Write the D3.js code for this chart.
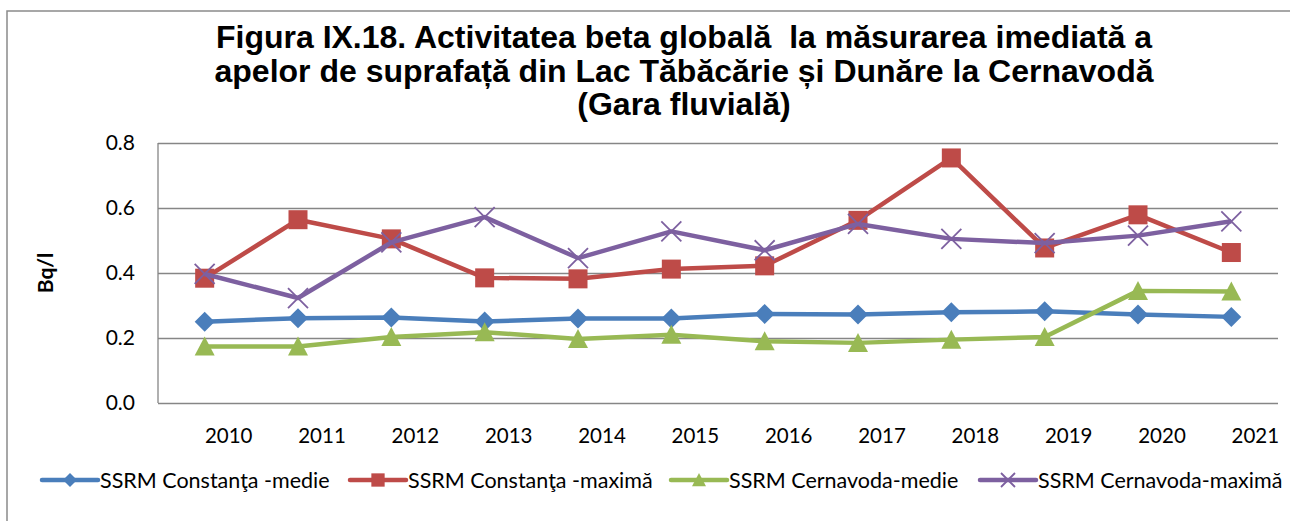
<!DOCTYPE html>
<html>
<head>
<meta charset="utf-8">
<script src="https://cdn.jsdelivr.net/npm/d3@7"></script>
<style>
  body { margin: 0; background: #fff; }
  .grid line { stroke: #868686; stroke-width: 1.3; }
  .grid .domain { display: none; }
  .line { fill: none; stroke-width: 4.5; stroke-linejoin: round; }
</style>
</head>
<body>
<div id="chart"></div>
<script>
// chart data
const years = ["2010", "2011", "2012", "2013", "2014", "2015", "2016", "2017", "2018", "2019", "2020", "2021"];
const constantaMedie = [0.250, 0.261, 0.263, 0.251, 0.260, 0.260, 0.274, 0.272, 0.279, 0.282, 0.272, 0.265];
const constantaMaxima = [0.384, 0.564, 0.505, 0.385, 0.382, 0.412, 0.422, 0.562, 0.754, 0.477, 0.579, 0.463];
const cernavodaMedie = [0.174, 0.174, 0.203, 0.218, 0.197, 0.210, 0.190, 0.185, 0.195, 0.203, 0.345, 0.343];
const cernavodaMaxima = [0.397, 0.323, 0.494, 0.572, 0.446, 0.528, 0.470, 0.551, 0.505, 0.492, 0.515, 0.559];
const yTicks = [0.0, 0.2, 0.4, 0.6, 0.8];
const seriesNames = ["SSRM Constanţa -medie", "SSRM Constanţa -maximă", "SSRM Cernavoda-medie", "SSRM Cernavoda-maximă"];
const titleLines = [
    "Figura IX.18. Activitatea beta globală  la măsurarea imediată a",
    "apelor de suprafață din Lac Tăbăcărie și Dunăre la Cernavodă",
    "(Gara fluvială)"
];

function renderChart() {
    const W = 1290, H = 521;
    const margin = {top: 143, left: 158, right: 12, bottom: 118};
    const width = W - margin.left - margin.right,
          height = H - margin.top - margin.bottom;

    const svg = d3.select("#chart")
                  .append("svg")
                    .attr("width", W)
                    .attr("height", H);

    //outer frame
    svg.append("rect")
        .attr("x", 7).attr("y", 11)
        .attr("width", 1400).attr("height", 700)
        .attr("fill", "none")
        .attr("stroke", "#8a8a8a")
        .attr("stroke-width", 1.5);

    //title
    svg.append("text")
        .attr("x", 684)
        .attr("y", 48)
        .attr("text-anchor", "middle")
        .style("font-family", "'Liberation Sans', Arial, sans-serif")
        .style("font-weight", "bold")
        .style("font-size", "32px")
        .selectAll("tspan")
        .data(titleLines)
        .enter()
        .append("tspan")
            .attr("x", 684)
            .attr("dy", (d, i) => i === 0 ? 0 : 33.5)
            .style("white-space", "pre")
            .text(d => d);

    const g = svg.append("g")
                 .attr("transform", "translate(" + margin.left + "," + margin.top + ")");

    const x = d3.scaleBand()
                .domain(years)
                .range([0, width]);
    const y = d3.scaleLinear()
                .domain([0, 0.8])
                .range([height, 0]);

    //gridlines
    g.append("g")
        .attr("class", "grid")
        .call(d3.axisLeft(y).tickValues(yTicks).tickSize(-width).tickFormat(""));

    //left axis line
    g.append("line")
        .attr("x1", 0).attr("x2", 0)
        .attr("y1", 0).attr("y2", height)
        .attr("stroke", "#868686")
        .attr("stroke-width", 1.3);

    //y tick labels
    g.selectAll(".ylab")
        .data(yTicks)
        .enter()
        .append("text")
            .attr("class", "ylab")
            .attr("x", -23)
            .attr("y", d => y(d))
            .attr("dy", "0.35em")
            .attr("text-anchor", "end")
            .style("font-family", "Lato, sans-serif")
            .style("font-size", "21px")
            .text(d => d.toFixed(1));

    //x tick labels (shifted right like the original)
    g.selectAll(".xlab")
        .data(years)
        .enter()
        .append("text")
            .attr("class", "xlab")
            .attr("x", d => x(d) + x.bandwidth() / 2 + 24)
            .attr("y", height + 40)
            .attr("text-anchor", "middle")
            .style("font-family", "Lato, sans-serif")
            .style("font-size", "20.5px")
            .text(d => d);

    //y axis title
    svg.append("text")
        .attr("transform", "translate(53,273) rotate(-90)")
        .attr("text-anchor", "middle")
        .style("font-family", "Lato, sans-serif")
        .style("font-weight", "bold")
        .style("font-size", "21px")
        .text("Bq/l");

    const colors = ["#4a7ebb", "#be4b48", "#98b954", "#7d60a0"];
    const shapes = ["diamond", "square", "triangle", "cross"];
    const series = [constantaMedie, constantaMaxima, cernavodaMedie, cernavodaMaxima];

    function marker(sel, shape, color, s) {
        if (shape === "diamond") {
            sel.append("path").attr("d", `M0,${-s}L${s},0L0,${s}L${-s},0Z`).attr("fill", color);
        } else if (shape === "square") {
            sel.append("rect").attr("x", -s * 0.95).attr("y", -s * 0.95)
                .attr("width", s * 1.9).attr("height", s * 1.9).attr("fill", color);
        } else if (shape === "triangle") {
            sel.append("path").attr("d", `M0,${-s}L${s},${s * 0.9}L${-s},${s * 0.9}Z`).attr("fill", color);
        } else {
            sel.append("path").attr("d", `M${-s},${-s}L${s},${s}M${s},${-s}L${-s},${s}`)
                .attr("stroke", color).attr("stroke-width", 1.8);
        }
    }

    const line = d3.line()
                   .x((d, i) => x(years[i]) + x.bandwidth() / 2)
                   .y(d => y(d));

    series.forEach((data, k) => {
        const sg = g.append("g");
        sg.append("path")
            .datum(data)
            .attr("class", "line")
            .attr("stroke", colors[k])
            .attr("d", line);
        data.forEach((v, i) => {
            const m = sg.append("g")
                        .attr("transform", "translate(" + (x(years[i]) + x.bandwidth() / 2) + "," + y(v) + ")");
            marker(m, shapes[k], colors[k], 10);
        });
    });

    //legend
    const legendX = [42, 350, 671, 980];
    const legend = svg.append("g").attr("id", "legend");
    seriesNames.forEach((name, k) => {
        const lg = legend.append("g").attr("transform", "translate(" + legendX[k] + ",480)");
        lg.append("line")
            .attr("x1", 0).attr("x2", 56)
            .attr("stroke", colors[k])
            .attr("stroke-width", 4.5)
            .attr("stroke-linecap", "round");
        marker(lg.append("g").attr("transform", "translate(28,0)"), shapes[k], colors[k], 7);
        lg.append("text")
            .attr("x", 58)
            .attr("dy", "0.35em")
            .style("font-family", "Lato, sans-serif")
            .style("font-size", "21.5px")
            .text(name);
    });
}

renderChart();
</script>
</body>
</html>
